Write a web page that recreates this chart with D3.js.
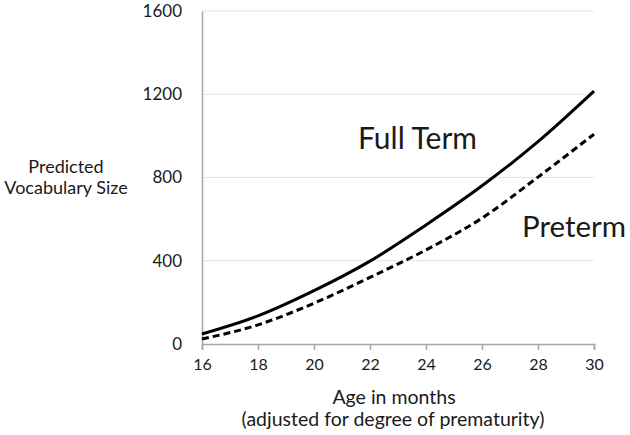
<!DOCTYPE html>
<html><head><meta charset="utf-8">
<script src="https://cdn.jsdelivr.net/npm/d3@7"></script>
<style>
body{margin:0;background:#fff;}
text{font-family:Lato,"Open Sans",sans-serif;fill:#1a1a1a;}
</style></head>
<body><svg id="c" width="630" height="435"></svg>
<script>
const months = [16, 18, 20, 22, 24, 26, 28, 30];
const fullTerm = [48, 135, 256, 398, 572, 760, 972, 1215];
const preterm = [24, 92, 196, 320, 452, 605, 802, 1008];
const yTicks = [0, 400, 800, 1200, 1600];

const svg = d3.select("#c");
const m = {l: 202, r: 594, t: 11, b: 344};
const x = d3.scaleLinear().domain([16, 30]).range([m.l, m.r]);
const y = d3.scaleLinear().domain([0, 1600]).range([m.b, m.t]);

// gridlines
svg.append("g").selectAll("line").data(yTicks.filter(d => d > 0)).join("line")
  .attr("x1", m.l).attr("x2", m.r).attr("y1", d => y(d)).attr("y2", d => y(d))
  .attr("stroke", "#e4e4e4").attr("stroke-width", 1);

// x axis
const xa = svg.append("g").attr("transform", `translate(0,${m.b})`)
  .call(d3.axisBottom(x).tickValues(months).tickSize(6).tickPadding(9).tickFormat(d3.format("d")));
xa.select(".domain").attr("stroke", "#a6a6a6").attr("stroke-width", 1.5);
xa.selectAll(".tick line").attr("stroke", "#a6a6a6").attr("stroke-width", 1.5);
xa.selectAll("text").style("font-size", "16px").style("font-family", "Lato,sans-serif").attr("fill", "#1a1a1a");

// y axis
const ya = svg.append("g").attr("transform", `translate(${m.l},0)`)
  .call(d3.axisLeft(y).tickValues(yTicks).tickSize(0).tickPadding(20).tickFormat(d3.format("d")));
ya.select(".domain").attr("stroke", "#a6a6a6").attr("stroke-width", 1.5);
ya.selectAll("text").style("font-size", "17px").style("font-family", "Lato,sans-serif").attr("fill", "#1a1a1a");

const line = d3.line().x((d, i) => x(months[i])).y(d => y(d)).curve(d3.curveMonotoneX);
svg.append("path").datum(fullTerm).attr("d", line).attr("fill", "none")
  .attr("stroke", "#000").attr("stroke-width", 3);
svg.append("path").datum(preterm).attr("d", line).attr("fill", "none")
  .attr("stroke", "#000").attr("stroke-width", 3).attr("stroke-dasharray", "7,4");

// labels
svg.append("text").attr("x", 358).attr("y", 149).style("font-size", "30px").text("Full Term");
svg.append("text").attr("x", 522).attr("y", 237).style("font-size", "29.5px").text("Preterm");

svg.append("text").attr("x", 66).attr("y", 173).attr("text-anchor", "middle").style("font-size", "18px").text("Predicted");
svg.append("text").attr("x", 66).attr("y", 194).attr("text-anchor", "middle").style("font-size", "18px").text("Vocabulary Size");

svg.append("text").attr("x", 394).attr("y", 404).attr("text-anchor", "middle").style("font-size", "19.5px").text("Age in months");
svg.append("text").attr("x", 393).attr("y", 426).attr("text-anchor", "middle").style("font-size", "19.5px").text("(adjusted for degree of prematurity)");
</script></body></html>
